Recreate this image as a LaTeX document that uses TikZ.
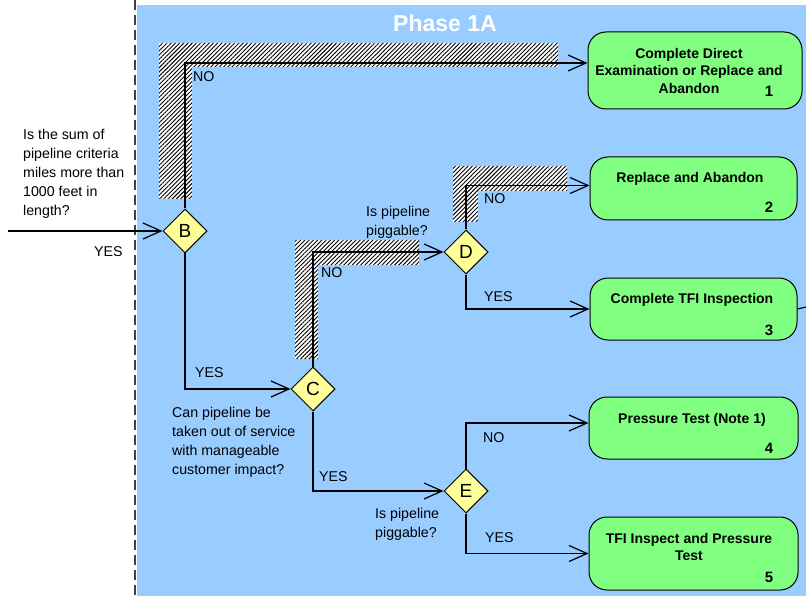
\documentclass[tikz,border=0pt]{standalone}
\usepackage{fontspec}
\setmainfont{Liberation Sans}
\usetikzlibrary{arrows.meta,shapes.geometric,patterns.meta,calc}
\definecolor{bgblue}{RGB}{153,204,255}
\definecolor{boxgreen}{RGB}{128,255,128}
\definecolor{dyellow}{RGB}{255,255,153}
\definecolor{dashgray}{RGB}{64,64,64}
\begin{document}
\begin{tikzpicture}[x=1pt,y=-1pt,
  every node/.style={inner sep=0pt, font=\fontsize{14.2}{19}\selectfont},
  dec/.style={diamond, draw=black, line width=1pt, fill=dyellow, minimum width=44pt, minimum height=44pt, font=\fontsize{19}{22}\selectfont},
  endbox/.style={draw=black, line width=1pt, fill=boxgreen, rounded corners=18pt},
  flow/.style={line width=1.2pt, -{Straight Barb[length=18pt,width=16pt,line width=1.2pt]}},
  plain/.style={line width=1.2pt},
  hatch/.style={preaction={fill=white}, pattern={Lines[angle=45,distance=3pt,line width=0.9pt]}, pattern color=black},
  lbl/.style={anchor=base west},
  q/.style={anchor=north west, align=left},
  boxtxt/.style={align=center, font=\fontsize{14}{17.5}\selectfont\bfseries},
  num/.style={anchor=base, font=\fontsize{15}{18}\selectfont\bfseries}
]
\useasboundingbox (0,0) rectangle (806,596);
\fill[bgblue] (137,5) rectangle (806,596);
\draw[dashgray, line width=2pt, dash pattern=on 10pt off 5pt] (135,0) -- (135,596);

\node[font=\fontsize{23}{26}\selectfont\bfseries, text=white, anchor=base] (title) at (445,32) {Phase 1A};

% hatched shadows
\fill[hatch] (159,43) -- (558,43) -- (558,67) -- (192,67) -- (192,199) -- (159,199) -- cycle;
\fill[hatch] (453,166) -- (567,166) -- (567,191) -- (478,191) -- (478,222) -- (453,222) -- cycle;
\fill[hatch] (295,240) -- (419,240) -- (419,265) -- (318,265) -- (318,359) -- (295,359) -- cycle;

% decisions
\node[dec] (B) at (185,231) {B};
\node[dec] (C) at (313,389) {C};
\node[dec] (D) at (466,252) {D};
\node[dec] (E) at (466,491) {E};

% end boxes
\node[endbox, minimum width=214pt, minimum height=77pt] (b1) at (695,70.5) {};
\node[endbox, minimum width=207pt, minimum height=63pt] (b2) at (693.5,188.5) {};
\node[endbox, minimum width=207pt, minimum height=62pt] (b3) at (693.5,309) {};
\node[endbox, minimum width=209pt, minimum height=62pt] (b4) at (693.5,428) {};
\node[endbox, minimum width=209pt, minimum height=73pt] (b5) at (693.5,553.5) {};

\node[boxtxt, anchor=north] (t1) at (689,48) {Complete Direct\\Examination or Replace and\\Abandon};
\node[boxtxt, anchor=base] (t2) at (690,183) {Replace and Abandon};
\node[boxtxt, anchor=base] (t3) at (692,303) {Complete TFI Inspection};
\node[boxtxt, anchor=base] (t4) at (692,423) {Pressure Test (Note 1)};
\node[boxtxt, anchor=north] (t5) at (689,533) {TFI Inspect and Pressure\\Test};

\node[num] (n1) at (769,97) {1};
\node[num] (n2) at (769,213) {2};
\node[num] (n3) at (769,335) {3};
\node[num] (n4) at (769,453) {4};
\node[num] (n5) at (769,582) {5};

% questions
\node[q] (q1) at (23,129) {Is the sum of\\pipeline criteria\\miles more than\\1000 feet in\\length?};
\node[q] (qd) at (366,206) {Is pipeline\\piggable?};
\node[q] (qc) at (172,407) {Can pipeline be\\taken out of service\\with manageable\\customer impact?};
\node[q] (qe) at (375,508) {Is pipeline\\piggable?};

% labels
\node[lbl] (noB) at (193,82) {NO};
\node[lbl] (noD) at (484,204) {NO};
\node[lbl] (noC) at (321,277) {NO};
\node[lbl] (yesD) at (484,301) {YES};
\node[lbl] (yesB) at (195,377) {YES};
\node[lbl] (yesC) at (319,481) {YES};
\node[lbl] (yesIn) at (94,257) {YES};
\node[lbl] (noE) at (483,442) {NO};
\node[lbl] (yesE) at (485,542) {YES};

% connectors
\coordinate (in) at (8,231);
\coordinate (out) at (806,307);
\draw[flow] (in) -- (B.west);
\draw[flow] (B.north) |- ($(b1.west)+(0,-7.5)$);
\draw[flow] (B.south) |- (C.west);
\draw[flow] (C.north) |- (D.west);
\draw[flow] (C.south) |- (E.west);
\draw[flow] (D.north) |- ($(b2.west)+(0,-3)$);
\draw[flow] (D.south) |- (b3.west);
\draw[flow] (E.north) |- ($(b4.west)+(0,-5)$);
\draw[flow] (E.south) |- (b5.west);
\draw[plain] (b3.east) -- (out);
\end{tikzpicture}
\end{document}
